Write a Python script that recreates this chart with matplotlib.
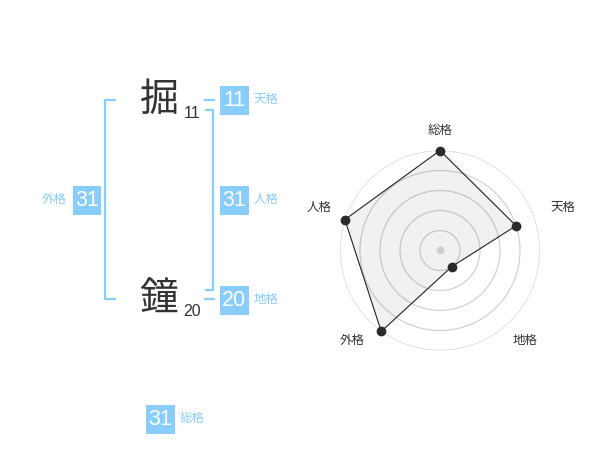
import numpy as np
import matplotlib
matplotlib.use('Agg')
import matplotlib.pyplot as plt
from matplotlib.patches import Rectangle

plt.rcParams['font.family'] = ['Liberation Sans', 'Noto Sans CJK JP', 'DejaVu Sans']

# name characters and stroke counts
chars = ['掘', '鐘']
strokes = [11, 20]

# fortune numbers
kaku_labels = ['天格', '人格', '地格', '外格', '総格']
kaku_values = [11, 31, 20, 31, 31]

# radar data (order clockwise from top)
radar_labels = ['総格', '天格', '地格', '外格', '人格']
radar_scores = [5, 4, 1, 5, 5]

BLUE = '#88cdfb'
DARK = '#333333'

fig = plt.figure(figsize=(6, 4.7), dpi=100)
ax = fig.add_axes([0, 0, 1, 1])
ax.set_xlim(0, 600)
ax.set_ylim(470, 0)
ax.axis('off')

# name characters with stroke counts
char_pos = [(159, 101), (159, 300)]
for (x, y), c, s in zip(char_pos, chars, strokes):
    ax.text(x, y, c, fontsize=28, color=DARK, ha='center', va='center')
    ax.text(x + 33, y + 12, str(s), fontsize=11.5, color=DARK, ha='center', va='center')

# brackets
lw = 1.6
ax.plot([116, 105, 105, 116], [100, 100, 299, 299], color=BLUE, lw=lw, solid_capstyle='butt')
ax.plot([205, 213, 213, 205], [110, 110, 290, 290], color=BLUE, lw=lw, solid_capstyle='butt')
ax.plot([205, 214], [100, 100], color=BLUE, lw=lw)
ax.plot([205, 214], [299, 299], color=BLUE, lw=lw)

# boxes: (left, top, label side)
box_pos = [(220, 86, 'right'), (220, 186, 'right'), (220, 286, 'right'),
           (72.5, 186, 'left'), (146, 405, 'right')]
bw = 28.5
for (bx, by, side), lab, val in zip(box_pos, kaku_labels, kaku_values):
    ax.add_patch(Rectangle((bx, by), bw, bw, facecolor=BLUE, edgecolor='none'))
    ax.text(bx + bw / 2, by + bw / 2 + 0.5, str(val), fontsize=15.5, color='white',
            ha='center', va='center')
    if side == 'right':
        ax.text(bx + bw + 5, by + bw / 2, lab, fontsize=9, color=BLUE, ha='left', va='center')
    else:
        ax.text(bx - 6, by + bw / 2, lab, fontsize=9, color=BLUE, ha='right', va='center')

# radar chart
cx, cy, R = 440, 250.5, 100
rax = fig.add_axes([(cx - R) / 600, (470 - cy - R) / 470, 2 * R / 600, 2 * R / 470],
                   projection='polar')
rax.set_theta_zero_location('N')
rax.set_theta_direction(-1)
rax.set_ylim(0, 5)
rax.patch.set_alpha(0)
rax.spines['polar'].set_visible(False)
rax.set_xticks([])
rax.set_yticks([1, 2, 3, 4, 5])
rax.set_yticklabels([])
rax.yaxis.grid(True, color='#d2d2d2', lw=0.9)
rax.xaxis.grid(False)

theta = np.linspace(0, 2 * np.pi, len(radar_labels), endpoint=False)
tt = np.append(theta, theta[0])
vv = np.append(radar_scores, radar_scores[0])
rax.fill(tt, vv, color='black', alpha=0.055, lw=0, zorder=2)
rax.plot(tt, vv, color='#222222', lw=0.8, zorder=3)
rax.plot(theta, radar_scores, 'o', color='#2b2b2b', ms=6, zorder=4, clip_on=False)
rax.plot([0], [0], 'o', color='#cccccc', ms=4.5, zorder=4)

# point labels, offset in pixels from the outer ring
label_off = [(0, 19.5), (28, 11.5), (26, -9.5), (-29.5, -9.5), (-26, 11.5)]
for t, lab, off in zip(theta, radar_labels, label_off):
    rax.annotate(lab, xy=(t, 5), xytext=off, textcoords='offset pixels',
                 fontsize=9, color=DARK, ha='center', va='center', annotation_clip=False)

fig.savefig('out.png', dpi=100)
